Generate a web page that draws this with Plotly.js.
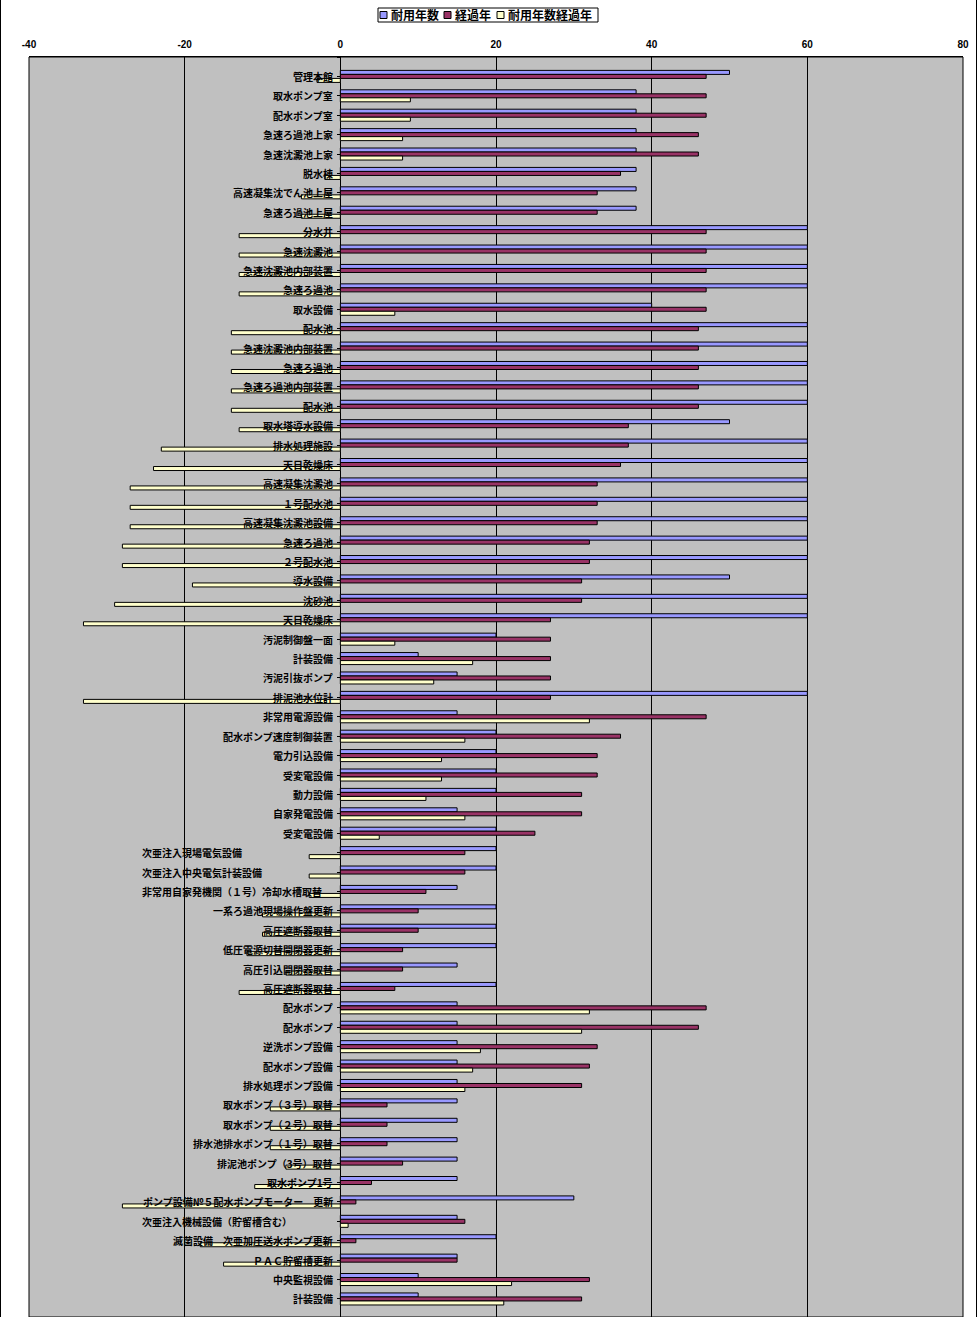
<!DOCTYPE html>
<html>
<head>
<meta charset="utf-8">
<script src="https://cdn.plot.ly/plotly-3.0.1.min.js"></script>
<style>
html,body{margin:0;padding:0;background:#fff;}
#wrap{position:absolute;left:0;top:0;width:975px;height:1317px;border-left:1px solid #000;border-right:1px solid #000;overflow:hidden;}
#chart{width:975px;height:1317px;}
</style>
</head>
<body>
<div id="wrap"><div id="chart"></div></div>
<script>
// ---- data ----
const seriesNames = ['耐用年数', '経過年', '耐用年数経過年'];
const categories = [
  '管理本館','取水ポンプ室','配水ポンプ室','急速ろ過池上家','急速沈澱池上家','脱水棟','高速凝集沈でん池上屋','急速ろ過池上屋',
  '分水井','急速沈澱池','急速沈澱池内部装置','急速ろ過池','取水設備','配水池','急速沈澱池内部装置','急速ろ過池',
  '急速ろ過池内部装置','配水池','取水塔導水設備','排水処理施設','天日乾燥床','高速凝集沈澱池','１号配水池','高速凝集沈澱池設備',
  '急速ろ過池','２号配水池','導水設備','沈砂池','天日乾燥床','汚泥制御盤一面','計装設備','汚泥引抜ポンプ',
  '排泥池水位計','非常用電源設備','配水ポンプ速度制御装置','電力引込設備','受変電設備','動力設備','自家発電設備','受変電設備',
  '次亜注入現場電気設備','次亜注入中央電気計装設備','非常用自家発機関（１号）冷却水槽取替','一系ろ過池現場操作盤更新','高圧遮断器取替','低圧電源切替開閉器更新','高圧引込開閉器取替','高圧遮断器取替',
  '配水ポンプ','配水ポンプ','逆洗ポンプ設備','配水ポンプ設備','排水処理ポンプ設備','取水ポンプ（３号）取替','取水ポンプ（２号）取替','排水池排水ポンプ（１号）取替',
  '排泥池ポンプ（3号）取替','取水ポンプ1号','ポンプ設備№５配水ポンプモーター　更新','次亜注入機械設備（貯留槽含む）','滅菌設備　次亜加圧送水ポンプ更新','ＰＡＣ貯留槽更新','中央監視設備','計装設備'
];
const durable = [
  50,38,38,38,38,38,38,38,
  60,60,60,60,40,60,60,60,
  60,60,50,60,60,60,60,60,
  60,60,50,60,60,20,10,15,
  60,15,20,20,20,20,15,20,
  20,20,15,20,20,20,15,20,
  15,15,15,15,15,15,15,15,
  15,15,30,15,20,15,10,10
];
const elapsed = [
  47,47,47,46,46,36,33,33,
  47,47,47,47,47,46,46,46,
  46,46,37,37,36,33,33,33,
  32,32,31,31,27,27,27,27,
  27,47,36,33,33,31,31,25,
  16,16,11,10,10,8,8,7,
  47,46,33,32,31,6,6,6,
  8,4,2,16,2,15,32,31
];
const overYears = [
  -3,9,9,8,8,-2,-5,-5,
  -13,-13,-13,-13,7,-14,-14,-14,
  -14,-14,-13,-23,-24,-27,-27,-27,
  -28,-28,-19,-29,-33,7,17,12,
  -33,32,16,13,13,11,16,5,
  -4,-4,-4,-10,-10,-12,-7,-13,
  32,31,18,17,16,-9,-9,-9,
  -7,-11,-28,1,-18,-15,22,21
];
const xTickVals = [-40,-20,0,20,40,60,80];
const xTickText = ['-40','-20','0','20','40','60','80'];
// labels that sit at the left of the label area instead of against the axis
const leftLabels = [40,41,42,59];

// ---- styling ----
const colors = ['#9999FF','#993366','#FFFFCC'];
const seriesData = [durable, elapsed, overYears];
const idx = categories.map((_, i) => i);

const traces = seriesData.map((vals, k) => ({
  type: 'bar',
  orientation: 'h',
  name: seriesNames[k],
  x: vals,
  y: idx,
  marker: {color: colors[k], line: {color: '#000', width: 1}},
  showlegend: false,
  hoverinfo: 'x+name'
}));

// geometry of plot area (px, inside the graph div which starts at x=1)
const W = 975, H = 1317;
const mL = 28, mR = 13, mT = 57, mB = 0;
const plotW = W - mL - mR, plotH = H - mT - mB;
const pxX = px => (px - 1 - mL) / plotW;
const pxY = py => 1 - (py - mT) / plotH;

const annotations = categories.map((c, i) => {
  const left = leftLabels.includes(i);
  return {
    x: left ? -25.7 : 0, y: i, xref: 'x', yref: 'y',
    text: '<b>' + c + '</b>', showarrow: false,
    xanchor: left ? 'left' : 'right', yanchor: 'middle',
    xshift: left ? 0 : -5,
    font: {family: 'Noto Sans CJK JP', size: 10, color: '#000'}
  };
});

// custom compact legend
const shapes = [
  {type: 'rect', xref: 'paper', yref: 'paper', x0: 0, x1: 1, y0: 0, y1: 1, line: {color: '#000', width: 1}, layer: 'above'},
  {type: 'rect', xref: 'paper', yref: 'paper', x0: pxX(378), x1: pxX(598), y0: pxY(22), y1: pxY(8), line: {color: '#000', width: 1}, fillcolor: '#fff'}
];
const legendSwatchX = [380, 444, 497];
legendSwatchX.forEach((sx, k) => {
  shapes.push({type: 'rect', xref: 'paper', yref: 'paper', x0: pxX(sx), x1: pxX(sx + 7), y0: pxY(18.5), y1: pxY(11.5),
    line: {color: '#000', width: 1}, fillcolor: colors[k]});
  annotations.push({x: pxX(sx + 9), y: pxY(15), xref: 'paper', yref: 'paper', text: '<b>' + seriesNames[k] + '</b>', showarrow: false,
    xanchor: 'left', yanchor: 'middle', font: {family: 'Noto Sans CJK JP', size: 12, color: '#000'}});
});

const layout = {
  width: W, height: H,
  margin: {l: mL, r: mR, t: mT, b: mB, pad: 0},
  paper_bgcolor: '#fff',
  plot_bgcolor: '#C0C0C0',
  barmode: 'group',
  bargap: 0.38,
  bargroupgap: 0,
  showlegend: false,
  xaxis: {
    side: 'top', range: [-40, 80], tickmode: 'array', tickvals: xTickVals,
    ticktext: xTickText.map(t => '<b>' + t + '</b>'),
    showgrid: true, gridcolor: '#000', gridwidth: 1,
    zeroline: true, zerolinecolor: '#000', zerolinewidth: 1,
    showline: true, linecolor: '#000', mirror: true, ticks: '', ticklabelstandoff: 4,
    tickfont: {family: 'Liberation Sans Narrow, Liberation Sans, Arial', size: 10, color: '#000'},
    fixedrange: true
  },
  yaxis: {
    range: [63.93, -1.0], anchor: 'free', position: 1/3,
    tickmode: 'linear', tick0: 0, dtick: 1, ticks: 'outside', ticklen: 3, tickcolor: '#000',
    showticklabels: false, showgrid: false, zeroline: false, showline: false, fixedrange: true
  },
  annotations: annotations,
  shapes: shapes,
  font: {family: 'Noto Sans CJK JP'}
};

Plotly.newPlot('chart', traces, layout, {staticPlot: true, displayModeBar: false});
</script>
</body>
</html>
